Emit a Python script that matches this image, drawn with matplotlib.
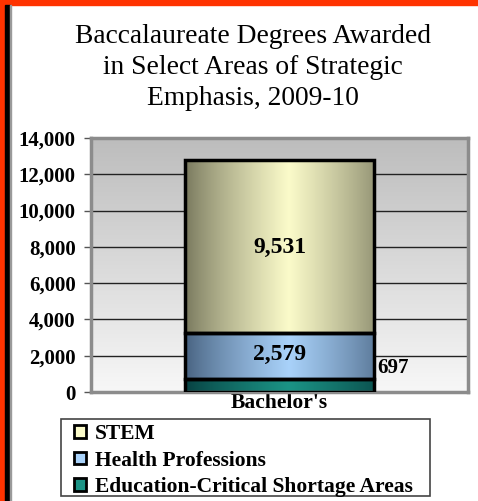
import matplotlib
matplotlib.use("Agg")
import matplotlib.pyplot as plt
import numpy as np
from matplotlib.colors import to_rgb
from matplotlib.patches import Rectangle

# data
categories = ["Bachelor's"]
series = ["Education-Critical Shortage Areas", "Health Professions", "STEM"]
edu_vals = [697]
health_vals = [2579]
stem_vals = [9531]
yticks = [0, 2000, 4000, 6000, 8000, 10000, 12000, 14000]

# (dark edge, light centre) for the horizontal bar gradients
GRAD = {
    "STEM": ("#76765c", "#fbfbca"),
    "Health Professions": ("#46607e", "#a9d2fa"),
    "Education-Critical Shortage Areas": ("#073f40", "#1b9385"),
}
FONT = "Liberation Serif"


def hgrad(dark, light, n=256):
    d, l = np.array(to_rgb(dark)), np.array(to_rgb(light))
    t = np.linspace(0, 1, n)
    w = 1 - np.abs(t - 0.55) / 0.55
    w = np.clip(w, 0, 1) ** 0.8
    return (d[None, :] * (1 - w[:, None]) + l[None, :] * w[:, None])[None, :, :]


fig = plt.figure(figsize=(4.78, 5.01), dpi=100)
W, H = 478, 501

# page frame: orange bands plus black rule on the left
fig.patches.append(Rectangle((0, 0), 4 / W, 1, transform=fig.transFigure,
                             color="#ff3300", zorder=0))
fig.patches.append(Rectangle((0, 1 - 5 / H), 1, 5 / H, transform=fig.transFigure,
                             color="#ff3300", zorder=0))
fig.patches.append(Rectangle((5 / W, 0), 5 / W, 1 - 5 / H, transform=fig.transFigure,
                             color="black", zorder=1))
fig.patches.append(Rectangle((10 / W, 0), 1 / W, 1 - 5 / H, transform=fig.transFigure,
                             color="#9a9a9a", zorder=1))

ax = fig.add_axes([91 / W, 1 - 392 / H, (468 - 91) / W, (392 - 138) / H])

# background gradient, gray at top to white at bottom
bg = np.linspace(0.97, 0.74, 256)[:, None]
ax.imshow(np.dstack([bg, bg, bg]), extent=[0, 1, 0, 1], transform=ax.transAxes,
          aspect="auto", origin="lower", zorder=0)

x = np.arange(len(categories))
bottom = np.zeros(len(categories))
bars_by_series = {}
for name, vals in zip(series, [edu_vals, health_vals, stem_vals]):
    bars = ax.bar(x, vals, 0.5, bottom=bottom, facecolor="none",
                  edgecolor="black", linewidth=2.5, zorder=3)
    for b in bars:
        bx, by = b.get_x(), b.get_y()
        im = ax.imshow(hgrad(*GRAD[name]), extent=[bx, bx + b.get_width(), by, by + b.get_height()],
                       aspect="auto", zorder=2)
        im.set_clip_path(b)
    bars_by_series[name] = bars
    bottom = bottom + np.array(vals)

for b, v in zip(bars_by_series["STEM"], stem_vals):
    ax.text(b.get_x() + b.get_width() / 2, b.get_y() + b.get_height() / 2 - 50, f"{v:,}",
            ha="center", va="center", fontsize=17, fontweight="bold", family=FONT, zorder=4)
for b, v in zip(bars_by_series["Health Professions"], health_vals):
    ax.text(b.get_x() + b.get_width() / 2, b.get_y() + b.get_height() / 2 + 80, f"{v:,}",
            ha="center", va="center", fontsize=17, fontweight="bold", family=FONT, zorder=4)
for b, v in zip(bars_by_series["Education-Critical Shortage Areas"], edu_vals):
    ax.text(b.get_x() + b.get_width() + 0.01, b.get_y() + b.get_height() + 600, f"{v:,}",
            ha="left", va="center", fontsize=15, fontweight="bold", family=FONT, zorder=4)

ax.set_xlim(-0.5, 0.5)
ax.set_ylim(0, 14000)
ax.set_yticks(yticks)
ax.set_yticklabels([f"{t:,}" for t in yticks], fontsize=15, fontweight="bold", family=FONT)
ax.set_xticks(x)
ax.set_xticklabels(categories, fontsize=15.5, fontweight="bold", family=FONT)
ax.tick_params(axis="x", length=0, pad=1)
ax.tick_params(axis="y", length=5, width=1, color="#555555", pad=6)
ax.grid(axis="y", color="#222222", lw=1, zorder=1)
ax.set_axisbelow(True)
for s in ax.spines.values():
    s.set_color("#8c8c8c")
    s.set_linewidth(2.5)

fig.text(253 / W, 1 - 24 / H,
         "Baccalaureate Degrees Awarded\nin Select Areas of Strategic\nEmphasis, 2009-10",
         ha="center", va="top", fontsize=19.8, family=FONT, linespacing=1.32)

# legend, listed top-down as STEM first; frame drawn separately
fig.patches.append(Rectangle((61 / W, 1 - 496 / H), (430 - 61) / W, (496 - 419) / H,
                             transform=fig.transFigure, facecolor="white",
                             edgecolor="#444444", lw=1.2, zorder=1))
handles = [Rectangle((0, 0), 1, 1, facecolor=GRAD[n][1], edgecolor="black", lw=2)
           for n in series[::-1]]
leg = fig.legend(handles, series[::-1], loc="upper left",
                 bbox_to_anchor=(72 / W, 1 - 422 / H), frameon=False,
                 prop={"family": FONT, "weight": "bold", "size": 15.5},
                 handlelength=0.55, handleheight=0.55, handletextpad=0.4,
                 labelspacing=0.3, borderpad=0.1, borderaxespad=0)

fig.savefig("out.png", dpi=100)
